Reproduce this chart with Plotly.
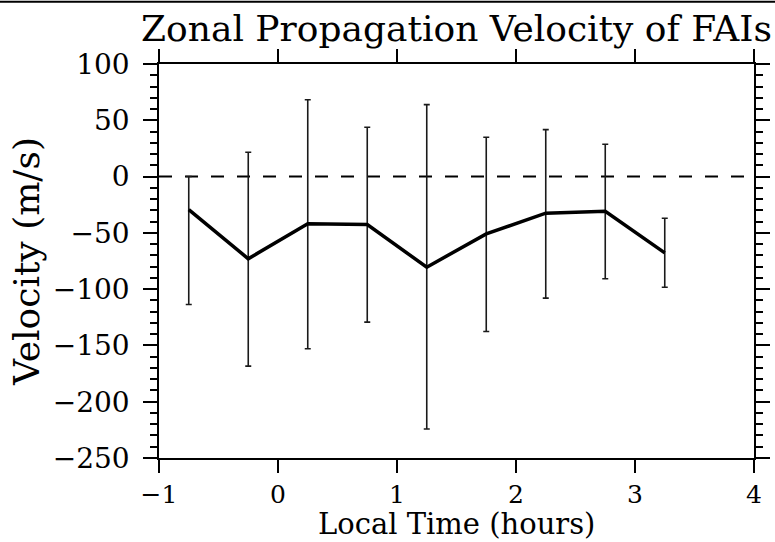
import plotly.graph_objects as go

local_time = [-0.75, -0.25, 0.25, 0.75, 1.25, 1.75, 2.25, 2.75, 3.25]
velocity = [-29.3, -73.0, -42.0, -42.6, -80.5, -50.9, -32.5, -30.8, -67.8]
err_top = [0.0, 21.6, 68.3, 43.8, 63.9, 34.9, 41.7, 28.7, -37.0]
err_bottom = [-113.6, -168.4, -152.9, -129.3, -224.3, -137.6, -108.0, -90.8, -98.3]

err_plus = [t - v for t, v in zip(err_top, velocity)]
err_minus = [v - b for v, b in zip(velocity, err_bottom)]

FONT = "DejaVu Serif"

fig = go.Figure()
fig.add_trace(go.Scatter(
    x=local_time, y=velocity, mode="lines",
    line=dict(color="black", width=3.5),
    error_y=dict(type="data", symmetric=False, array=err_plus, arrayminus=err_minus,
                 color="#1a1a1a", thickness=1.6, width=3),
    showlegend=False,
))

fig.add_shape(type="line", xref="paper", yref="y", x0=0, x1=1, y0=0, y1=0,
              line=dict(color="black", width=2, dash="13px,13px"), layer="below")
# top border line of the picture
fig.add_shape(type="line", xref="paper", yref="paper", x0=-0.3, x1=1.1, y0=1.158, y1=1.158,
              line=dict(color="black", width=2))

# x-axis title as an annotation (for exact placement)
fig.add_annotation(text="Local Time (hours)", xref="paper", yref="paper", x=0.5, y=0,
                   xanchor="center", yanchor="middle", yshift=-66, showarrow=False,
                   font=dict(family=FONT, size=29, color="black"))

fig.update_layout(
    width=775, height=542,
    margin=dict(l=159, r=21, t=64, b=84, autoexpand=False),
    paper_bgcolor="white", plot_bgcolor="white",
    font=dict(family=FONT, color="black", size=27),
    title=dict(text="Zonal Propagation Velocity of FAIs", x=0.589, xanchor="center",
               y=0.948, yanchor="middle", yref="container",
               font=dict(family=FONT, size=36, color="black")),
)
fig.update_xaxes(
    range=[-1, 4], dtick=1, tick0=-1, automargin=False,
    showline=True, linecolor="black", linewidth=1.6, mirror="ticks",
    ticks="outside", ticklen=13, tickwidth=1.6, tickcolor="black",
    showgrid=False, zeroline=False,
    tickfont=dict(family=FONT, size=25),
)
fig.update_yaxes(
    range=[-250, 100], dtick=50, tick0=0, automargin=False,
    showline=True, linecolor="black", linewidth=1.6, mirror="ticks",
    ticks="outside", ticklen=14, tickwidth=1.6, tickcolor="black",
    ticklabelstandoff=8,
    minor=dict(dtick=10, ticks="outside", ticklen=7, tickwidth=1.6, tickcolor="black"),
    showgrid=False, zeroline=False,
    tickfont=dict(family=FONT, size=28),
    title=dict(text="Velocity (m/s)", font=dict(family=FONT, size=36), standoff=2),
)

fig.write_html("out.html")
